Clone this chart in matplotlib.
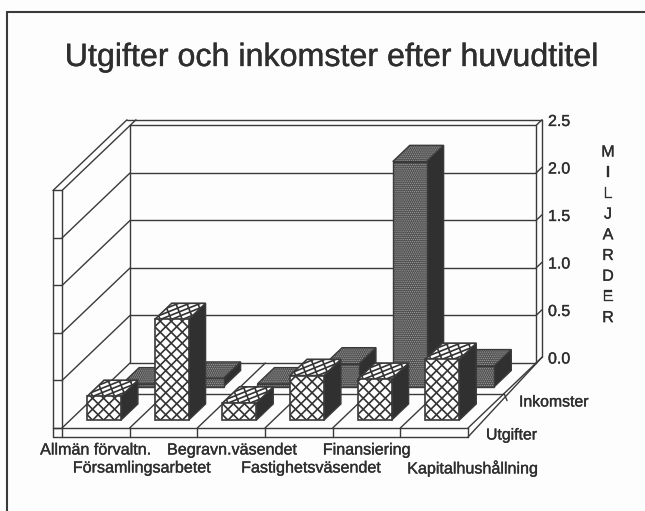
import numpy as np
import matplotlib
matplotlib.use('Agg')
import matplotlib.pyplot as plt
import matplotlib.patheffects as pe
from matplotlib.patches import Polygon
from matplotlib.collections import LineCollection

plt.rcParams['font.family'] = ['Liberation Sans', 'DejaVu Sans']
plt.rcParams['hatch.linewidth'] = 0.6

title = 'Utgifter och inkomster efter huvudtitel'
categories = ['Allmän förvaltn.', 'Församlingsarbetet', 'Begravn.väsendet',
              'Fastighetsväsendet', 'Finansiering', 'Kapitalhushållning']
utgifter = [0.25, 1.06, 0.18, 0.47, 0.43, 0.64]
inkomster = [0.03, 0.09, 0.03, 0.24, 2.37, 0.22]
y_ticks = [0.0, 0.5, 1.0, 1.5, 2.0, 2.5]
unit_letters = list('MILJARDER')

# layout of the oblique box, in pixels
X0, Y0 = 62, 428
CAT_W = 67.67
UNIT_H = 95
DEPTH_X, DEPTH_Y = 68, 65
BAR_W, BAR_D = 0.5, 0.25
ROW_START = {'Utgifter': 0.12, 'Inkomster': 0.635}
INK = '#3a3a3a'
LW = 1.0


def project(cat, value, depth):
    return (X0 + cat * CAT_W + depth * DEPTH_X, Y0 - value * UNIT_H - depth * DEPTH_Y)


def line(ax, a, b, lw=LW, z=1):
    ax.plot([a[0], b[0]], [a[1], b[1]], color=INK, lw=lw, zorder=z, solid_capstyle='round')


def cross_fill(ax, corners, z, period=11.0):
    # diagonal lattice laid out in the plane of the face, clipped to it
    o, a, _, b = [np.array(c, dtype=float) for c in corners]
    e1, e2 = a - o, b - o
    u1, u2 = e1 / np.linalg.norm(e1), e2 / np.linalg.norm(e2)
    poly = Polygon(corners, closed=True, fc='white', ec='none', zorder=z)
    ax.add_patch(poly)
    segs = []
    for k in np.arange(-20, 40) * period + period / 2:
        segs.append([o + u1 * k, o + u1 * (k + 60 * period) + u2 * (60 * period)])
        segs.append([o + u1 * k, o + u1 * (k - 60 * period) + u2 * (60 * period)])
    lc = LineCollection(segs, colors='#333333', linewidths=1.2, zorder=z)
    ax.add_collection(lc)
    lc.set_clip_path(poly)
    ax.add_patch(Polygon(corners, closed=True, fc='none', ec=INK, lw=1.2, zorder=z))


def stipple_fill(ax, corners, z):
    ax.add_patch(Polygon(corners, closed=True, fc='#505050', ec='#a0a0a0', hatch='........',
                         lw=0, zorder=z))
    ax.add_patch(Polygon(corners, closed=True, fc='none', ec=INK, lw=LW, zorder=z))


def bar3d(ax, cat_idx, value, row, fill, z):
    left = cat_idx + (1 - BAR_W) / 2
    right = left + BAR_W
    d0 = ROW_START[row]
    d1 = d0 + BAR_D
    front = [project(left, 0, d0), project(right, 0, d0), project(right, value, d0), project(left, value, d0)]
    top = [project(left, value, d0), project(right, value, d0), project(right, value, d1), project(left, value, d1)]
    side = [project(right, 0, d0), project(right, 0, d1), project(right, value, d1), project(right, value, d0)]
    ax.add_patch(Polygon(side, closed=True, fc='#303030', ec=INK, lw=LW, zorder=z))
    fill(ax, top, z)
    fill(ax, front, z)


fig = plt.figure(figsize=(6.45, 5.11), dpi=100)
ax = fig.add_axes([0, 0, 1, 1])
ax.set_xlim(0, 645)
ax.set_ylim(511, 0)
ax.axis('off')
fig.patch.set_facecolor('#fdfdfd')

# page frame, only left and top lines survive in the scan
line(ax, (7, 12), (645, 12), lw=1.5)
line(ax, (7, 12), (7, 511), lw=1.5)

n = len(categories)
top = y_ticks[-1]
WALL = 6 / DEPTH_X

# back wall and grid
line(ax, project(0, 0, 1), project(0, top, 1))
line(ax, project(n, 0, 1), project(n, top, 1))
for v in y_ticks:
    line(ax, project(0, v, 1), project(n, v, 1))
    line(ax, project(n, v, 1), project(n, v, 1 + WALL))
    if v > 0:
        line(ax, project(0, v, 0), project(0, v, 1))
    line(ax, (X0 - 9, project(0, v, 0)[1]), project(0, v, 0))

# wall thickness
wall_corner = (project(0, top, 1)[0] - 3, project(0, top, 1 + WALL)[1])
line(ax, wall_corner, project(n, top, 1 + WALL))
line(ax, project(0, top, 1), project(0, top, 1 + WALL))
line(ax, project(n, top, 1 + WALL), project(n, 0, 1 + WALL))
line(ax, (X0 - 9, project(0, top, 0)[1]), wall_corner)
line(ax, (X0 - 9, project(0, top, 0)[1]), (X0 - 9, Y0 + 9))
line(ax, project(0, top, 0), (X0, Y0 + 9))

# floor
line(ax, project(0, 0, 0), project(0, 0, 1))
line(ax, project(n, 0, 0), project(n, 0, 1))
line(ax, (X0 - 9, Y0), project(n, 0, 0))
line(ax, (X0 - 9, Y0 + 9), (project(n, 0, 0)[0], Y0 + 9))
line(ax, (project(n, 0, 0)[0], Y0 + 9), project(n, 0, 1 + WALL))
line(ax, project(n, 0, 0), (project(n, 0, 0)[0], Y0 + 9))
line(ax, project(0, 0, 0.53), project(n, 0, 0.53))
for c in range(1, n):
    p = project(c, 0, 0)
    line(ax, p, project(c, 0, 1))
    line(ax, p, (p[0], Y0 + 9))
p = project(n, 0, 0.53)
line(ax, p, (p[0] + 3, p[1] + 7))

# bars, back row first
for i in range(n):
    bar3d(ax, i, inkomster[i], 'Inkomster', stipple_fill, 3)
for i in range(n):
    bar3d(ax, i, utgifter[i], 'Utgifter', cross_fill, 5)

# text, slightly thickened like the scanned print
TXT = '#2e2e2e'
thick = [pe.withStroke(linewidth=0.25, foreground=TXT)]


def label(x, y, s, size, ha='left'):
    ax.text(x, y, s, fontsize=size, color=TXT, ha=ha, va='center', path_effects=thick)


label(332, 58, title, 23.2, ha='center')

label_x = [96, 142, 232, 311, 367, 473]
for i, lab in enumerate(categories):
    label(label_x[i], 450 if i % 2 == 0 else 468, lab, 11.6, ha='center')

for v in y_ticks:
    label(548, project(n, v, 1)[1] - 4, f'{v:.1f}', 11.5)

label(519, 402, 'Inkomster', 11.4)
label(486, 435, 'Utgifter', 11.4)

for i, ch in enumerate(unit_letters):
    label(608, 152 + i * 20.7, ch, 11.5, ha='center')

fig.savefig('out.png', dpi=100, facecolor=fig.get_facecolor())
